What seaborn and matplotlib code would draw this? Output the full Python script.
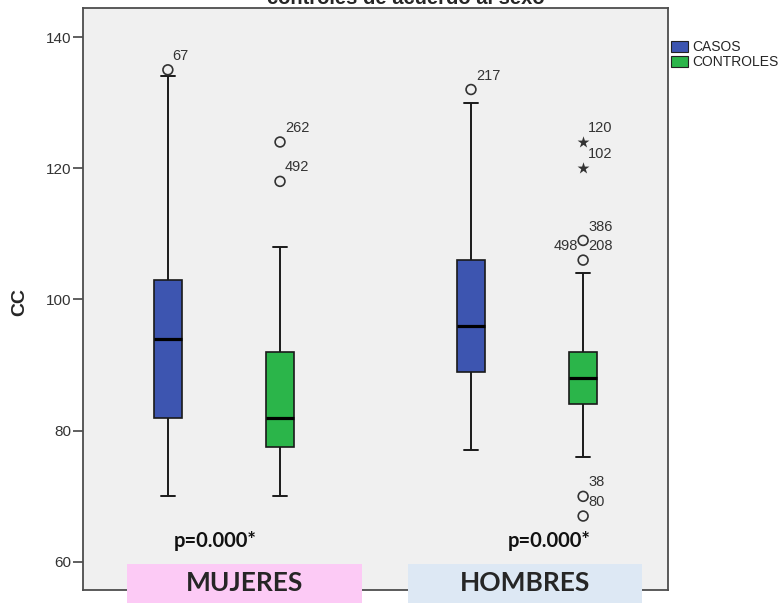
# circunferencia de cintura (CC): casos vs controles por sexo
import numpy as np
import pandas as pd
import seaborn as sns
import matplotlib.pyplot as plt
from matplotlib.patches import Patch, Rectangle

sns.set_style("white")
plt.rcParams['font.family'] = ['Liberation Sans', 'DejaVu Sans']

sexo = ["MUJERES", "HOMBRES"]
grupo = ["CASOS", "CONTROLES"]

# resumen de cada caja: bigote inf, Q1, mediana, Q3, bigote sup
mujeres_casos = [70, 82, 94, 103, 134]
mujeres_controles = [70, 77.5, 82, 92, 108]
hombres_casos = [77, 89, 96, 106, 130]
hombres_controles = [76, 84, 88, 92, 104]

# valores atipicos (o) y extremos (*) con su numero de caso
out_sexo = ["MUJERES", "MUJERES", "MUJERES", "HOMBRES", "HOMBRES",
            "HOMBRES", "HOMBRES", "HOMBRES", "HOMBRES", "HOMBRES"]
out_grupo = ["CASOS", "CONTROLES", "CONTROLES", "CASOS", "CONTROLES",
             "CONTROLES", "CONTROLES", "CONTROLES", "CONTROLES", "CONTROLES"]
out_valor = [135, 124, 118, 132, 124, 120, 109, 106, 70, 67]
out_id = ["67", "262", "492", "217", "120", "102", "386", "208", "38", "80"]
out_id_izq = ["", "", "", "", "", "", "", "498", "", ""]
out_extremo = [False, False, False, False, True, True, False, False, False, False]

p_valores = ["p=0.000*", "p=0.000*"]

colores = {"CASOS": "#3d55b0", "CONTROLES": "#2bb54a"}
cajas = {("MUJERES", "CASOS"): mujeres_casos, ("MUJERES", "CONTROLES"): mujeres_controles,
         ("HOMBRES", "CASOS"): hombres_casos, ("HOMBRES", "CONTROLES"): hombres_controles}

filas = []
for (s, g), vals in cajas.items():
    for v in vals:
        filas.append({"sexo": s, "grupo": g, "cc": v})
df = pd.DataFrame(filas)

fig = plt.figure(figsize=(7.82, 6.03), dpi=100)
ax = fig.add_axes([83 / 782, 1 - 590 / 603, 585 / 782, 582 / 603])
ax.set_facecolor("#f0f0f0")

ancho = 0.74
sns.boxplot(data=df, x="sexo", y="cc", hue="grupo", order=sexo, hue_order=grupo,
            palette=colores, saturation=1, width=ancho, gap=0.75, whis=(0, 100),
            linecolor="#1a1a1a", linewidth=1.2, showfliers=False, legend=False,
            medianprops=dict(color="black", linewidth=2.3),
            whiskerprops=dict(color="#1a1a1a", linewidth=1.4),
            capprops=dict(color="#1a1a1a", linewidth=1.4), ax=ax)

# atipicos en la posicion de su caja
for s, g, v, lab, lab2, ext in zip(out_sexo, out_grupo, out_valor, out_id, out_id_izq, out_extremo):
    xp = sexo.index(s) + (-1 if g == "CASOS" else 1) * ancho / 4
    if ext:
        ax.scatter(xp, v, marker="*", s=80, color="#333333", linewidths=0, zorder=5)
    else:
        ax.scatter(xp, v, marker="o", s=50, facecolors="none", edgecolors="#333333",
                   linewidths=1.2, zorder=5)
    ax.annotate(lab, (xp, v), xytext=(3.5, 10), textcoords="offset points",
                ha="left", va="center", fontsize=10.5, color="#333333")
    if lab2:
        ax.annotate(lab2, (xp, v), xytext=(-3.5, 10), textcoords="offset points",
                    ha="right", va="center", fontsize=10.5, color="#333333")

# p valores
for i, p in enumerate(p_valores):
    ax.text([-0.03, 1.073][i], 63.2, p, ha="center", va="center", fontsize=14.5,
            fontweight="bold", family=["Lato", "DejaVu Sans"], color="#111111")

ax.set_xlim(-0.465, 1.465)
ax.set_ylim(55.73, 144.42)
ax.set_yticks([60, 80, 100, 120, 140])
ax.set_xticks([])
ax.set_xlabel("")
ax.set_ylabel("")
ax.tick_params(axis="y", left=True, length=7, width=1.2, color="#444444",
               labelsize=11, labelcolor="#333333", pad=1.5)
for sp in ax.spines.values():
    sp.set_color("#4d4d4d")
    sp.set_linewidth(1.3)

fig.text(20 / 782, 1 - 302 / 603, "CC", rotation=90, ha="center", va="center",
         fontsize=14, fontweight="bold")

# titulo cortado en el borde superior
fig.text(406 / 782, 1 - 4 / 603, "controles de acuerdo al sexo", ha="center",
         va="baseline", fontsize=14.5, fontweight="bold")

# leyenda
handles = [Patch(facecolor=colores[g], edgecolor="#222222", linewidth=0.8) for g in grupo]
fig.legend(handles, grupo, loc="upper left", bbox_to_anchor=(671 / 782, 1 - 40 / 603),
           frameon=False, fontsize=10, handlelength=1.25, handleheight=0.85,
           handletextpad=0.25, labelspacing=0.1, borderpad=0, borderaxespad=0)

# etiquetas de sexo sobre fondo de color
etiq_x = [(127, 362), (408, 642)]
etiq_color = ["#fccaf5", "#dde8f4"]
for (x0, x1), c, s in zip(etiq_x, etiq_color, sexo):
    fig.add_artist(Rectangle((x0 / 782, 0), (x1 - x0) / 782, 39 / 603,
                             transform=fig.transFigure, facecolor=c, edgecolor="none", zorder=10))
    fig.text((x0 + x1) / 2 / 782, 1 - 583 / 603, s, ha="center", va="center",
             fontsize=19, fontweight="bold", family=["Lato", "DejaVu Sans"], zorder=11)

plt.savefig("out.png", dpi=100)
